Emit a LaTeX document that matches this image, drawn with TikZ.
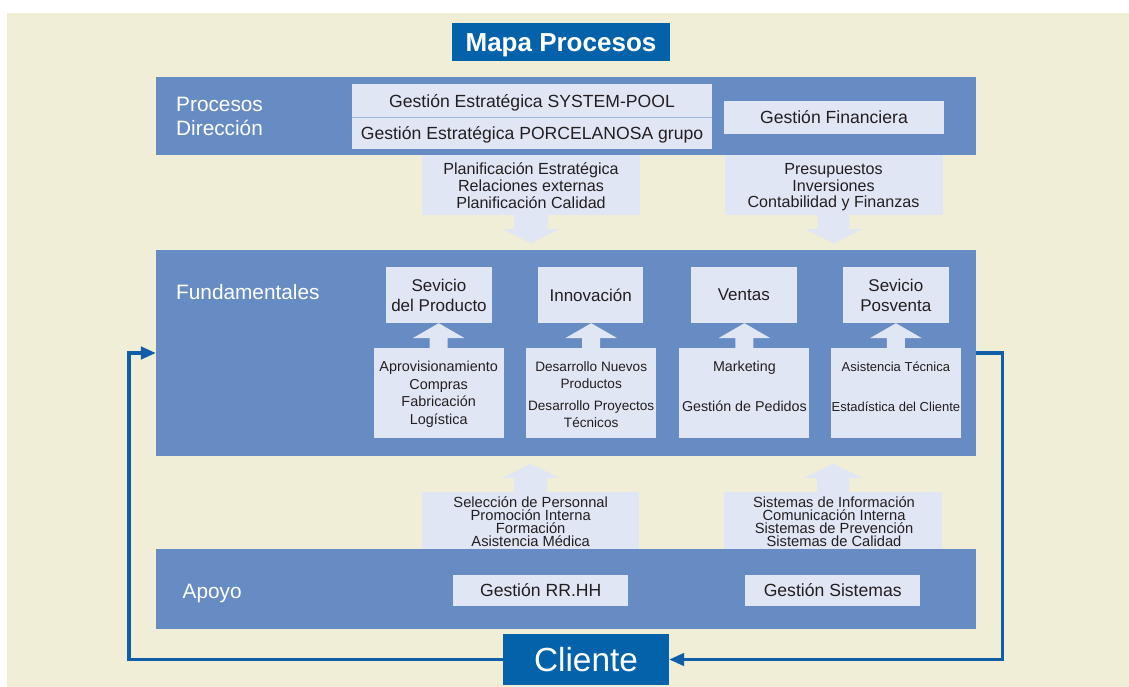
\documentclass[tikz,border=0pt]{standalone}
\usepackage{fontspec}
\setmainfont{Liberation Sans}
\usetikzlibrary{arrows.meta,calc}
\definecolor{creamc}{RGB}{240,238,214}
\definecolor{bandc}{RGB}{103,140,196}
\definecolor{lightc}{RGB}{224,230,244}
\definecolor{darkc}{RGB}{4,98,170}
\definecolor{loopc}{RGB}{16,94,168}
\definecolor{sepc}{RGB}{163,184,224}
\definecolor{txtc}{RGB}{35,31,32}
\lineskiplimit=-100pt
\newcommand\blockArrow[5]{%
  \fill[lightc] let \p1=(#1), \p2=(#2) in
    ({\x1-#3},\y1) -- ({\x1+#3},\y1) -- ({\x1+#3},{\y2+#5}) -- ({\x1+#4},{\y2+#5})
    -- (\x1,\y2) -- ({\x1-#4},{\y2+#5}) -- ({\x1-#3},{\y2+#5}) -- cycle;}
\begin{document}
\begin{tikzpicture}[x=1pt,y=-1pt,
  band/.style={fill=bandc, inner sep=0pt, minimum width=820pt},
  lbox/.style={fill=lightc, inner sep=0pt, text=txtc, align=center},
  bandlbl/.style={anchor=west, inner sep=0pt, text=white, font=\fontsize{20.8}{24}\selectfont, align=left},
  gbox/.style={lbox, font=\fontsize{17.6}{21}\selectfont, text height=12.6pt, text depth=0pt},
  ubox/.style={lbox, minimum width=105.5pt, minimum height=56pt, font=\fontsize{17}{20}\selectfont},
  lowbox/.style={fill=lightc, inner sep=0pt, minimum width=130pt, minimum height=90pt},
  txtnode/.style={inner sep=0pt, text=txtc, align=center},
  loopline/.style={draw=loopc, line width=3.2pt},
  looptip/.style={-{Triangle[length=15pt,width=12.5pt]}},
  darkbox/.style={fill=darkc, inner sep=0pt, text=white, text depth=0pt}
]
\useasboundingbox (0,0) rectangle (1129,687);
\fill[creamc] (7,13) rectangle (1129,687);

% bands
\node[band, minimum height=78pt] (dir) at (566,116) {};
\node[band, minimum height=206pt] (fund) at (566,353) {};
\node[band, minimum height=80pt] (apoyo) at (566,589) {};

% panels
\node[lbox, minimum width=218pt, minimum height=59.5pt] (pl) at (531,184.75) {};
\node[lbox, minimum width=218pt, minimum height=59.5pt] (pr) at (833.5,184.75) {};
\node[lbox, minimum width=217.3pt, minimum height=57.3pt] (bl) at (530.7,520.35) {};
\node[lbox, minimum width=217.6pt, minimum height=57.3pt] (br) at (833.2,520.35) {};

% title
\node[darkbox, minimum width=218pt, minimum height=38pt, font=\fontsize{26}{30}\selectfont\bfseries, text height=18.7pt] (title) at (561,42) {Mapa Procesos};

% band labels
\node[bandlbl] (dirlbl) at (176,116.7) {Procesos\\Dirección};
\node[bandlbl, text height=15pt, text depth=0pt] (fundlbl) at (176,292) {Fundamentales};
\node[bandlbl, text height=15pt, text depth=0pt] (apoyolbl) at (182.5,591) {Apoyo};

% gestion boxes
\node[gbox, minimum width=360pt, minimum height=32.8pt] (sp) at (532,100.9) {Gestión Estratégica SYSTEM-POOL};
\node[gbox, minimum width=360pt, minimum height=31.7pt] (pg) at (532,133.15) {Gestión Estratégica PORCELANOSA grupo};
\draw[sepc, line width=1.4pt] (sp.south west) -- (sp.south east);
\node[gbox, minimum width=220pt, minimum height=33pt] (fin) at (834,117.5) {Gestión Financiera};
\node[gbox, minimum width=174.7pt, minimum height=30.7pt] (rrhh) at (540.7,590.4) {Gestión RR.HH};
\node[gbox, minimum width=175.4pt, minimum height=30.7pt] (sis) at (832.7,590.4) {Gestión Sistemas};

% panel texts
\node[txtnode, font=\fontsize{16.1}{16.6}\selectfont] (plt) at (531,185.6) {Planificación Estratégica\\Relaciones externas\\Planificación Calidad};
\node[txtnode, font=\fontsize{16.1}{16.6}\selectfont] (prt) at (833.5,187.3) {Presupuestos\\Inversiones\\Contabilidad y Finanzas};
\node[txtnode, font=\fontsize{14.7}{12.9}\selectfont] (blt) at (530.7,521.65) {Selección de Personnal\\Promoción Interna\\Formación\\Asistencia Médica};
\node[txtnode, font=\fontsize{14.7}{12.9}\selectfont] (brt) at (834,521.65) {Sistemas de Información\\Comunicación Interna\\Sistemas de Prevención\\Sistemas de Calidad};

% block arrows between panels and bands
\blockArrow{$(pl.south)+(0,-1)$}{$(pl.south |- fund.north)+(0,-6.4)$}{17pt}{28.5pt}{14.3pt}
\blockArrow{$(pr.south)+(0,-1)$}{$(pr.south |- fund.north)+(0,-6.4)$}{16pt}{28.5pt}{14.3pt}
\blockArrow{$(bl.north)+(0,1)$}{$(bl.north |- fund.south)+(0,7.6)$}{16.5pt}{28.5pt}{-14pt}
\blockArrow{$(br.north)+(0,1)$}{$(br.north |- fund.south)+(0,7.6)$}{16pt}{29pt}{-14pt}

% fundamentales boxes
\node[ubox] (u1) at (439,295) {Sevicio\\del Producto};
\node[ubox] (u2) at (590.7,295) {Innovación};
\node[ubox] (u3) at (743.8,295) {Ventas};
\node[ubox] (u4) at (895.8,295) {Sevicio\\Posventa};

\node[lowbox] (l1) at (438.7,393) {};
\node[lowbox] (l2) at (591.2,393) {};
\node[lowbox] (l3) at (744.4,393) {};
\node[lowbox] (l4) at (895.9,393) {};

\blockArrow{$(l1.north)+(0,1)$}{l1.north |- u1.south}{9pt}{26pt}{-15pt}
\blockArrow{$(l2.north)+(0,1)$}{l2.north |- u2.south}{9pt}{26pt}{-15pt}
\blockArrow{$(l3.north)+(0,1)$}{l3.north |- u3.south}{9pt}{26pt}{-15pt}
\blockArrow{$(l4.north)+(0,1)$}{l4.north |- u4.south}{9pt}{26pt}{-15pt}

\node[txtnode, font=\fontsize{14.4}{17.4}\selectfont] (l1t) at (438.7,394.3) {Aprovisionamiento\\Compras\\Fabricación\\Logística};
\node[txtnode, font=\fontsize{13.6}{17.3}\selectfont] (l2t) at (591.2,394.7) {Desarrollo Nuevos\\Productos\\[4.1pt]Desarrollo Proyectos\\Técnicos};
\node[txtnode, font=\fontsize{14.3}{17.4}\selectfont] (l3t) at (744.4,386.7) {Marketing\\[22.6pt]Gestión de Pedidos};
\node[txtnode, font=\fontsize{13}{17.4}\selectfont] (l4t) at (895.9,386.7) {Asistencia Técnica\\[22.6pt]Estadística del Cliente};

% cliente and loop
\node[darkbox, minimum width=166pt, minimum height=51pt, font=\fontsize{33.4}{38}\selectfont, text height=24pt] (cliente) at (586,659.5) {Cliente};
\coordinate (loopL) at (129,659.5);
\coordinate (loopR) at (1002.5,659.5);
\draw[loopline, looptip] (cliente.west) -- (loopL) |- (fund.west);
\draw[loopline, looptip] (fund.east) -| (loopR) -- (cliente.east);
\end{tikzpicture}
\end{document}
